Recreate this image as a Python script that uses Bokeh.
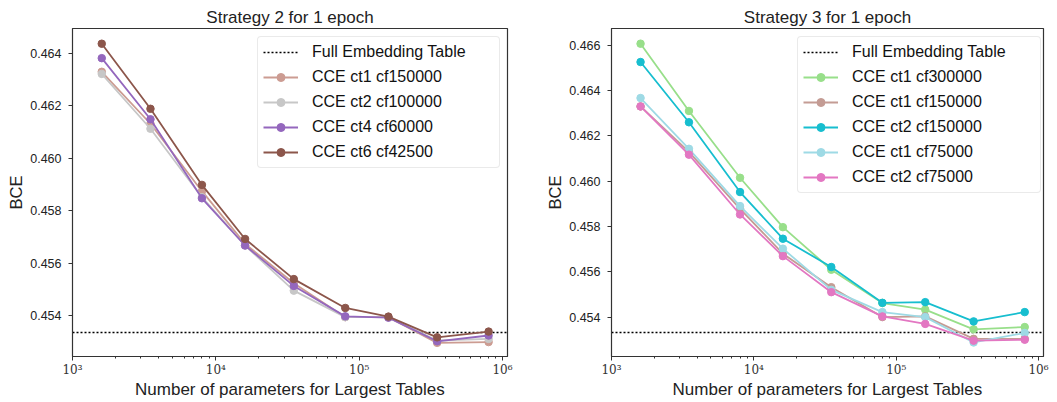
from bokeh.plotting import figure
from bokeh.layouts import row
from bokeh.models import FixedTicker, Range1d, Legend, NumeralTickFormatter
from bokeh.embed import file_html
from bokeh.resources import INLINE

# ---------------- data ----------------
params = [1600, 3500, 8000, 16000, 35000, 80000, 160000, 350000, 800000]
full_table_bce = 0.45334

s2_labels = ["CCE ct1 cf150000", "CCE ct2 cf100000", "CCE ct4 cf60000", "CCE ct6 cf42500"]
s2_ct1_cf150000 = [0.46329, 0.46131, 0.45874, 0.45673, 0.45523, 0.45394, 0.45394, 0.45296, 0.45299]
s2_ct2_cf100000 = [0.46321, 0.46112, 0.45851, 0.45667, 0.45495, 0.45394, 0.45394, 0.45305, 0.45311]
s2_ct4_cf60000 = [0.46381, 0.46148, 0.45847, 0.45667, 0.45513, 0.45397, 0.45392, 0.45302, 0.45324]
s2_ct6_cf42500 = [0.46436, 0.46188, 0.45898, 0.45692, 0.45539, 0.45429, 0.45396, 0.45317, 0.45339]
s2_series = [s2_ct1_cf150000, s2_ct2_cf100000, s2_ct4_cf60000, s2_ct6_cf42500]
s2_colors = ["#cc9c92", "#c7c7c7", "#9467bd", "#8c564b"]

s3_labels = ["CCE ct1 cf300000", "CCE ct1 cf150000", "CCE ct2 cf150000", "CCE ct1 cf75000", "CCE ct2 cf75000"]
s3_ct1_cf300000 = [0.46607, 0.46310, 0.46015, 0.45797, 0.45609, 0.45462, 0.45433, 0.45346, 0.45356]
s3_ct1_cf150000 = [0.46330, 0.46129, 0.45878, 0.45680, 0.45532, 0.45400, 0.45403, 0.45304, 0.45304]
s3_ct2_cf150000 = [0.46526, 0.46260, 0.45952, 0.45746, 0.45621, 0.45463, 0.45466, 0.45381, 0.45422]
s3_ct1_cf75000 = [0.46367, 0.46143, 0.45890, 0.45702, 0.45520, 0.45422, 0.45400, 0.45288, 0.45330]
s3_ct2_cf75000 = [0.46330, 0.46117, 0.45853, 0.45669, 0.45510, 0.45403, 0.45370, 0.45296, 0.45300]
s3_series = [s3_ct1_cf300000, s3_ct1_cf150000, s3_ct2_cf150000, s3_ct1_cf75000, s3_ct2_cf75000]
s3_colors = ["#98df8a", "#c49c94", "#17becf", "#9edae5", "#e377c2"]

x_major = [1e3, 1e4, 1e5, 1e6]
x_major_labels = ["10\u00b3", "10\u2074", "10\u2075", "10\u2076"]
x_minor = [m * d for d in (1e3, 1e4, 1e5) for m in range(2, 10)]

FONT = "Liberation Sans"
FRAME = "#333333"


def make_panel(title, labels, series, colors, y_range, y_ticks, width,
               border_left, border_right, legend_loc, legend_label_width):
    p = figure(width=width, height=402, x_axis_type="log",
               x_range=Range1d(1e3, 10 ** 6.035), y_range=Range1d(*y_range),
               output_backend="svg", toolbar_location=None,
               min_border_left=border_left, min_border_right=border_right,
               min_border_top=28, min_border_bottom=46)
    p.title.text = title
    p.title.align = "center"
    p.title.text_font = FONT
    p.title.text_font_size = "17px"
    p.title.text_font_style = "normal"
    p.title.text_color = "#222222"
    p.title.offset = 0
    p.title.standoff = 4

    p.grid.visible = False
    p.outline_line_color = FRAME
    p.outline_line_width = 1.2
    p.outline_line_alpha = 1

    xa = p.xaxis[0]
    xa.ticker = FixedTicker(ticks=x_major, minor_ticks=x_minor)
    xa.major_label_overrides = dict(zip(x_major, x_major_labels))
    xa.major_label_text_font = "DejaVu Serif"
    xa.major_label_text_font_size = "12px"
    xa.major_label_text_color = "#333333"
    xa.axis_label = "Number of parameters for Largest Tables"
    xa.axis_label_text_font = FONT
    xa.axis_label_text_font_size = "17px"
    xa.axis_label_text_font_style = "normal"
    xa.axis_label_text_color = "#222222"
    xa.axis_label_standoff = 0
    xa.major_label_standoff = 2

    ya = p.yaxis[0]
    ya.ticker = FixedTicker(ticks=y_ticks)
    ya.formatter = NumeralTickFormatter(format="0.000")
    ya.major_label_text_font = FONT
    ya.major_label_text_font_size = "12.5px"
    ya.major_label_text_color = "#222222"
    ya.axis_label = "BCE"
    ya.axis_label_text_font = FONT
    ya.axis_label_text_font_size = "16.5px"
    ya.axis_label_text_font_style = "normal"
    ya.axis_label_text_color = "#222222"
    ya.axis_label_standoff = 2
    ya.major_label_standoff = 7

    for ax in (xa, ya):
        ax.axis_line_color = FRAME
        ax.major_tick_line_color = FRAME
        ax.major_tick_in = 0
        ax.major_tick_out = 4
        ax.minor_tick_in = 0
        ax.minor_tick_out = 2
    xa.minor_tick_line_color = FRAME
    ya.minor_tick_line_color = None

    items = []
    p.hspan(y=[full_table_bce], line_color="black", line_width=1.6, line_dash="2 2")
    key = p.line(x=[params[0]], y=[full_table_bce], line_color="black", line_width=1.6, line_dash="2 2")
    items.append(("Full Embedding Table", [key]))

    for lab, vals, col in zip(labels, series, colors):
        ln = p.line(params, vals, line_color=col, line_width=1.8)
        sc = p.scatter(params, vals, size=7.5, fill_color=col, line_color=col)
        items.append((lab, [ln, sc]))

    legend = Legend(items=items, location=legend_loc)
    legend.label_text_font = FONT
    legend.label_text_font_size = "16px"
    legend.label_text_color = "#111111"
    legend.glyph_width = 35
    legend.glyph_height = 20
    legend.label_height = 20
    legend.label_width = legend_label_width
    legend.spacing = 5
    legend.padding = 5
    legend.margin = 0
    legend.label_standoff = 14
    legend.border_line_color = "#d5d5d5"
    legend.border_line_width = 1
    legend.border_radius = 4
    legend.background_fill_alpha = 0.85
    p.add_layout(legend, "center")
    return p


left = make_panel("Strategy 2 for 1 epoch", s2_labels, s2_series, s2_colors,
                  (0.45244, 0.46494), [0.454, 0.456, 0.458, 0.460, 0.462, 0.464],
                  width=530, border_left=72, border_right=23,
                  legend_loc=(185, 188), legend_label_width=182)
right = make_panel("Strategy 3 for 1 epoch", s3_labels, s3_series, s3_colors,
                   (0.45226, 0.46674), [0.454, 0.456, 0.458, 0.460, 0.462, 0.464, 0.466],
                   width=527, border_left=81, border_right=14,
                   legend_loc=(186, 163), legend_label_width=183)

layout = row(left, right, spacing=0)
open("out.html", "w").write(file_html(layout, INLINE))
